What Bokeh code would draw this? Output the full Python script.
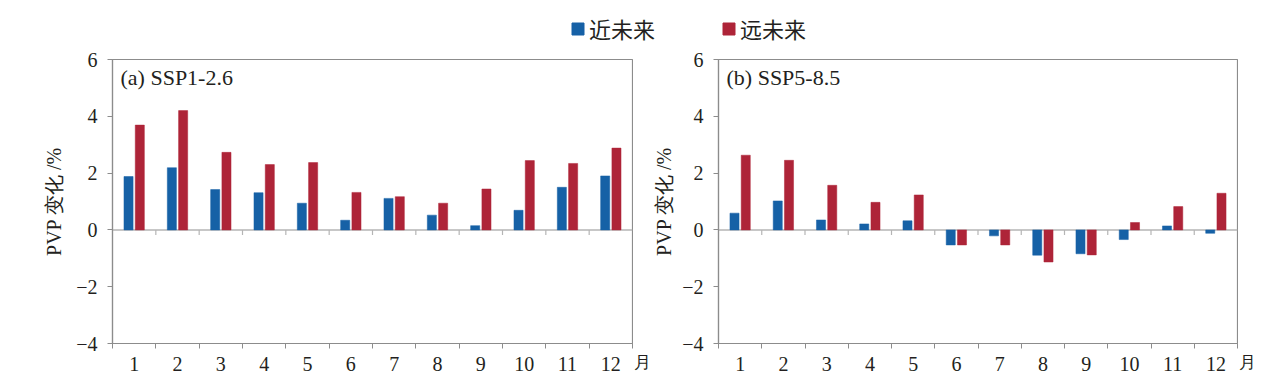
from bokeh.plotting import figure
from bokeh.models import (Range1d, FixedTicker, Span, Label, Legend, LegendItem,
                          ColumnDataSource, Title)
from bokeh.layouts import column, row
from bokeh.transform import dodge
from bokeh.embed import file_html
from bokeh.resources import INLINE

# ---------------- data ----------------
months = [1, 2, 3, 4, 5, 6, 7, 8, 9, 10, 11, 12]
month_labels = ["1", "2", "3", "4", "5", "6", "7", "8", "9", "10", "11", "12"]
series_names = ["近未来", "远未来"]
panel_titles = ["(a) SSP1-2.6", "(b) SSP5-8.5"]

ssp126_near = [1.88, 2.19, 1.42, 1.31, 0.94, 0.34, 1.11, 0.52, 0.15, 0.69, 1.50, 1.90]
ssp126_far = [3.69, 4.20, 2.73, 2.30, 2.37, 1.32, 1.17, 0.94, 1.44, 2.44, 2.34, 2.88]
ssp585_near = [0.59, 1.02, 0.35, 0.21, 0.32, -0.53, -0.21, -0.89, -0.84, -0.34, 0.14, -0.12]
ssp585_far = [2.63, 2.45, 1.57, 0.97, 1.23, -0.53, -0.53, -1.13, -0.88, 0.26, 0.82, 1.29]

y_ticks = [-4, -2, 0, 2, 4, 6]
y_label = "PVP 变化 /%"
x_unit = "月"

# ---------------- style ----------------
BLUE = "#1661a6"
RED = "#ae2438"
GRAY = "#8c8c8c"
TXT = "#231f20"
SERIF = "Liberation Serif"
CJK = "Noto Sans CJK SC"

boundaries = [m - 0.5 for m in months] + [months[-1] + 0.5]
FRAME_H = 284
FRAME_W = 520
PANEL_H = 340
TOP_H = 48


def make_panel(near, far, title, border_left, label_standoff, width):
    src = ColumnDataSource(dict(month=months, near=near, far=far))
    p = figure(width=width, height=PANEL_H, output_backend="svg", toolbar_location=None,
               x_range=Range1d(boundaries[0], boundaries[-1]),
               y_range=Range1d(min(y_ticks), max(y_ticks)),
               min_border_left=border_left, min_border_right=1,
               min_border_top=11, min_border_bottom=PANEL_H - 11 - FRAME_H)
    p.background_fill_color = "white"
    p.border_fill_color = "white"
    p.outline_line_color = GRAY
    p.outline_line_width = 1.2
    p.xgrid.visible = False
    p.ygrid.visible = False

    # zero line
    p.add_layout(Span(location=0, dimension="width", line_color="#b5b5b5",
                      line_width=1.5, level="underlay"))
    # ticks on the zero line at category boundaries
    tick_len = 5 * (max(y_ticks) - min(y_ticks)) / FRAME_H
    inner = boundaries[1:-1]
    p.segment(x0=inner, x1=inner, y0=[0] * len(inner), y1=[-tick_len] * len(inner),
              line_color="#b5b5b5", line_width=1.2)

    p.vbar(x=dodge("month", -0.13, range=p.x_range), top="near", width=0.21,
           source=src, fill_color=BLUE, line_color=BLUE, line_width=0.5)
    p.vbar(x=dodge("month", 0.13, range=p.x_range), top="far", width=0.21,
           source=src, fill_color=RED, line_color=RED, line_width=0.5)

    # y axis
    ya = p.yaxis[0]
    ya.ticker = FixedTicker(ticks=y_ticks, minor_ticks=[])
    ya.major_label_overrides = {t: (("\u2212" + str(abs(t))) if t < 0 else str(t)) for t in y_ticks}
    ya.axis_line_color = GRAY
    ya.axis_line_width = 1.2
    ya.major_tick_line_color = GRAY
    ya.major_tick_in = 0
    ya.major_tick_out = 5
    ya.minor_tick_line_color = None
    ya.major_label_standoff = 10
    ya.major_label_text_font = SERIF
    ya.major_label_text_font_size = "20px"
    ya.major_label_text_color = TXT
    ya.axis_label = y_label
    ya.axis_label_standoff = label_standoff
    ya.axis_label_text_font = SERIF
    ya.axis_label_text_font_size = "20px"
    ya.axis_label_text_font_style = "normal"
    ya.axis_label_text_color = TXT

    # x axis
    xa = p.xaxis[0]
    xa.ticker = FixedTicker(ticks=months, minor_ticks=boundaries)
    xa.major_label_overrides = {m: l for m, l in zip(months, month_labels)}
    xa.axis_line_color = GRAY
    xa.axis_line_width = 1.2
    xa.major_tick_line_color = None
    xa.major_tick_in = 0
    xa.major_tick_out = 5
    xa.minor_tick_line_color = GRAY
    xa.minor_tick_in = 0
    xa.minor_tick_out = 5
    xa.major_label_standoff = 8
    xa.major_label_text_font = SERIF
    xa.major_label_text_font_size = "20px"
    xa.major_label_text_color = TXT

    # panel title
    p.add_layout(Label(x=8, y=FRAME_H - 18, x_units="screen", y_units="screen",
                       text=title, text_font=SERIF, text_font_size="22px",
                       text_color=TXT, text_baseline="middle", text_align="left"))
    return p


def make_unit(width):
    # narrow strip carrying the month unit "月" just right of a panel
    s = figure(width=width, height=PANEL_H, output_backend="svg", toolbar_location=None,
               x_range=Range1d(0, 1), y_range=Range1d(0, 1),
               x_axis_location=None, y_axis_location=None,
               min_border=0, min_border_left=0, min_border_right=0,
               min_border_top=0, min_border_bottom=0)
    s.xgrid.visible = False
    s.ygrid.visible = False
    s.outline_line_color = None
    s.add_layout(Title(text=x_unit, align="center", vertical_align="top",
                       standoff=19, text_font=SERIF, text_font_size="17px",
                       text_font_style="normal", text_color=TXT), "below")
    return s


p1 = make_panel(ssp126_near, ssp126_far, panel_titles[0], 112, 8, 633)
u1 = make_unit(17)
p2 = make_panel(ssp585_near, ssp585_far, panel_titles[1], 67, 4, 588)
u2 = make_unit(17)

# legend strip
lg = figure(width=1268, height=TOP_H, output_backend="svg", toolbar_location=None,
            x_range=Range1d(-3, -2), y_range=Range1d(-10, -9),
            x_axis_location=None, y_axis_location=None,
            min_border=0, min_border_left=0, min_border_right=0,
            min_border_top=0, min_border_bottom=0)
lg.xgrid.visible = False
lg.ygrid.visible = False
lg.outline_line_color = None
proxy = ColumnDataSource(dict(month=months, near=ssp126_near, far=ssp126_far))
r_near = lg.vbar(x="month", top="near", width=0.2, source=proxy, fill_color=BLUE, line_color=BLUE)
r_far = lg.vbar(x="month", top="far", width=0.2, source=proxy, fill_color=RED, line_color=RED)
legend = Legend(items=[LegendItem(label=series_names[0], renderers=[r_near]),
                       LegendItem(label=series_names[1], renderers=[r_far])],
                orientation="horizontal", location=(570, 4),
                padding=0, margin=0, spacing=66, label_standoff=4,
                glyph_width=15, glyph_height=15,
                border_line_color=None, background_fill_alpha=0,
                label_text_font=CJK, label_text_font_size="22px",
                label_text_color=TXT)
lg.add_layout(legend)

layout = column(lg, row(p1, u1, p2, u2, spacing=0), spacing=0)

open("out.html", "w").write(file_html(layout, INLINE))
